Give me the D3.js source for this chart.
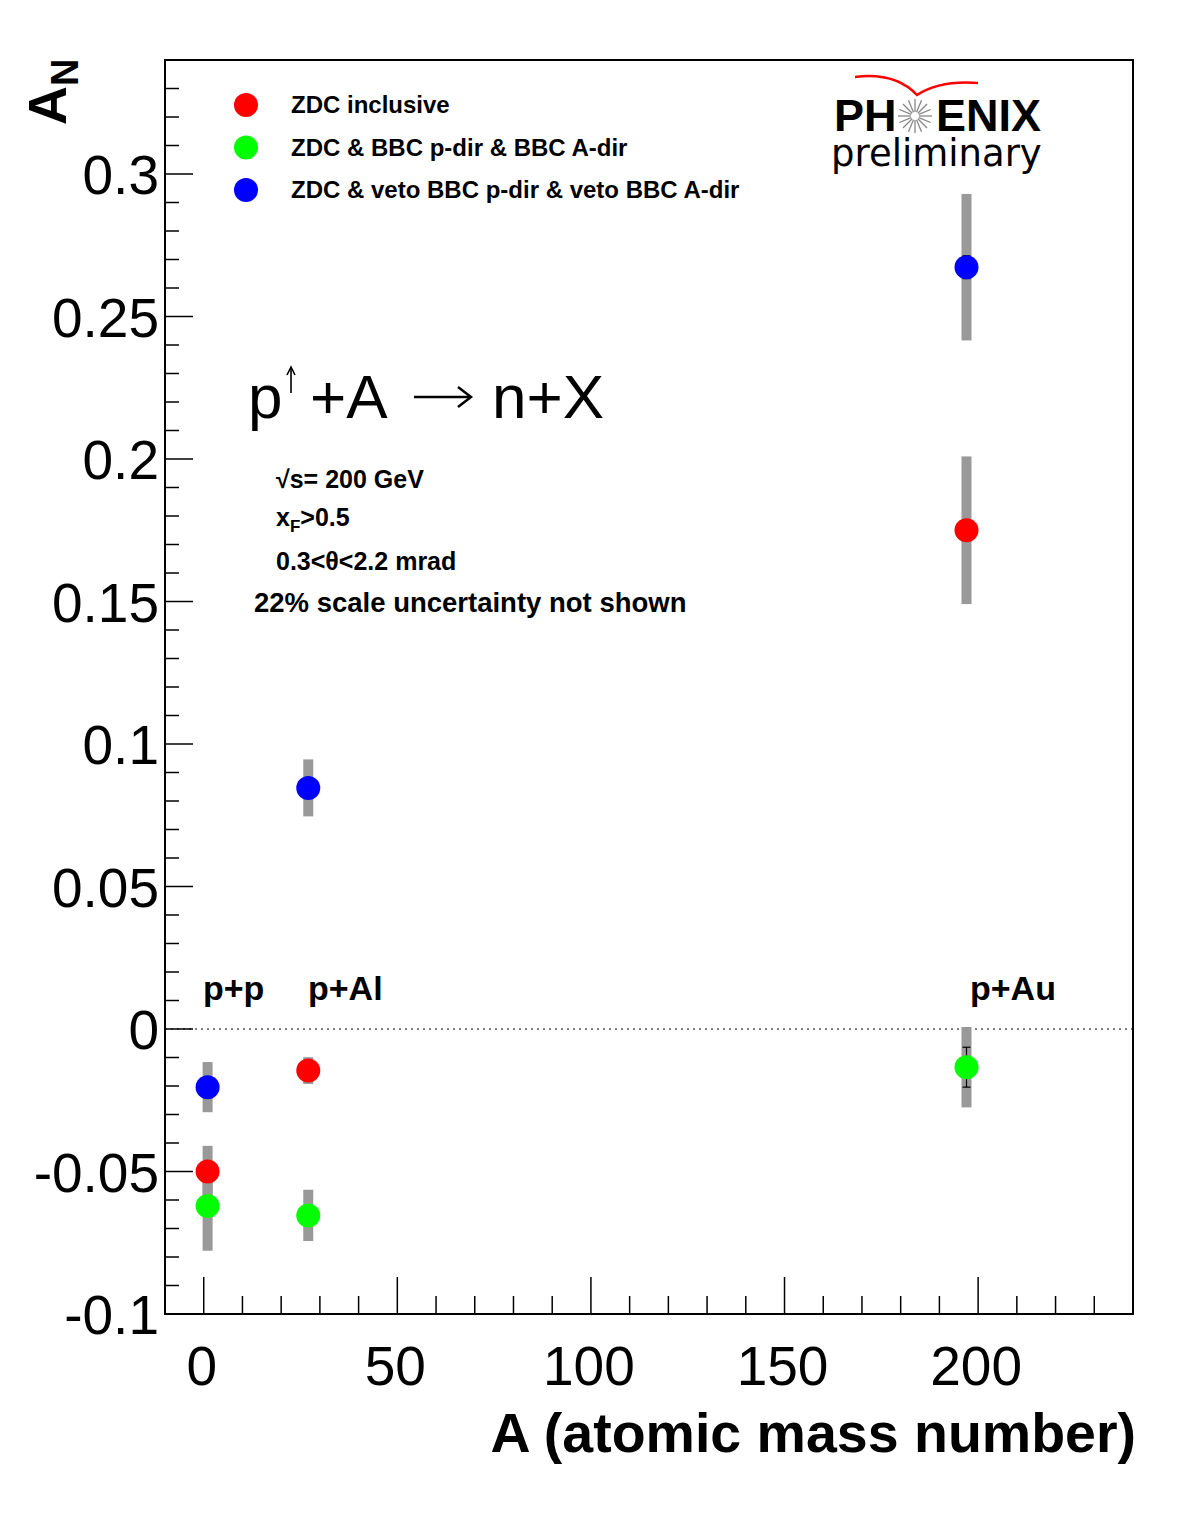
<!DOCTYPE html>
<html lang="en">
<head>
<meta charset="UTF-8">
<script src="https://d3js.org/d3.v7.min.js"></script>
<title>A_N vs A</title>
<style>
  body { margin: 0; background: #fff; }
  text { font-family: "Liberation Sans", Arial, Helvetica, sans-serif; fill: #000; }
  .bold { font-weight: bold; }
</style>
</head>
<body>
<div id="chart"></div>
<script>
// ---- data ----
var massNumbers = [1, 27, 197];
var systems = ["p+p", "p+Al", "p+Au"];
var seriesNames = ["ZDC inclusive", "ZDC & BBC p-dir & BBC A-dir", "ZDC & veto BBC p-dir & veto BBC A-dir"];
var seriesColors = ["#ff0000", "#00ff00", "#0000ff"];

var inclusiveAN  = [-0.0500, -0.0146, 0.1750];
var inclusiveSys = [0.0090, 0.0047, 0.0259];
var inclusiveStat = [0.0030, 0.0020, 0.0035];

var bbcAN   = [-0.0621, -0.0654, -0.0134];
var bbcSys  = [0.0157, 0.0090, 0.0141];
var bbcStat = [0.0035, 0.0030, 0.0070];

var vetoAN   = [-0.0204, 0.0846, 0.2673];
var vetoSys  = [0.0088, 0.0100, 0.0257];
var vetoStat = [0.0030, 0.0030, 0.0040];

var xTicks = [0, 50, 100, 150, 200];
var yTicks = [-0.1, -0.05, 0, 0.05, 0.1, 0.15, 0.2, 0.25, 0.3];

(function() {
    // ---- layout ----
    var width = 1182, height = 1530;
    var left = 165, right = 1133, mTop = 60, bottom = 1314;

    var x = d3.scaleLinear().domain([-10, 240]).range([left, right]);
    var y = d3.scaleLinear().domain([-0.1, 0.34]).range([bottom, mTop]);

    var svg = d3.select('#chart').append('svg')
        .attr('width', width)
        .attr('height', height);

    // build one table for the points
    var series = [
        {vals: inclusiveAN, sys: inclusiveSys, stat: inclusiveStat},
        {vals: bbcAN, sys: bbcSys, stat: bbcStat},
        {vals: vetoAN, sys: vetoSys, stat: vetoStat}
    ];
    var points = [];
    series.forEach(function(s, si) {
        s.vals.forEach(function(v, i) {
            points.push({A: massNumbers[i], v: v, sys: s.sys[i], stat: s.stat[i], color: seriesColors[si]});
        });
    });

    // zero line
    svg.append('line')
        .attr('x1', left).attr('x2', right)
        .attr('y1', y(0)).attr('y2', y(0))
        .attr('stroke', '#000').attr('stroke-width', 1.2)
        .attr('stroke-dasharray', '2,4');

    // ticks
    var xMinor = d3.range(0, 240, 10);
    svg.selectAll('.xtick').data(xMinor).enter().append('line')
        .attr('x1', function(d) { return x(d); }).attr('x2', function(d) { return x(d); })
        .attr('y1', bottom)
        .attr('y2', function(d) { return d % 50 === 0 ? bottom - 37 : bottom - 18; })
        .attr('stroke', '#000').attr('stroke-width', 1.5);

    var yMinor = d3.range(-9, 34).map(function(d) { return d / 100; });
    svg.selectAll('.ytick').data(yMinor).enter().append('line')
        .attr('y1', function(d) { return y(d); }).attr('y2', function(d) { return y(d); })
        .attr('x1', left)
        .attr('x2', function(d) { return Math.round(d * 100) % 5 === 0 ? left + 28 : left + 14; })
        .attr('stroke', '#000').attr('stroke-width', 1.5);

    // frame
    svg.append('rect')
        .attr('x', left).attr('y', mTop)
        .attr('width', right - left).attr('height', bottom - mTop)
        .attr('fill', 'none').attr('stroke', '#000').attr('stroke-width', 2);

    // tick labels
    svg.selectAll('.xlab').data(xTicks).enter().append('text')
        .attr('x', function(d) { return x(d) - 2; })
        .attr('y', 1385)
        .attr('text-anchor', 'middle')
        .style('font-size', '55px')
        .text(function(d) { return d; });

    svg.selectAll('.ylab').data(yTicks).enter().append('text')
        .attr('x', 159)
        .attr('y', function(d) { return y(d) + 20; })
        .attr('text-anchor', 'end')
        .style('font-size', '55px')
        .text(function(d) { return d; });

    // axis titles
    svg.append('text').attr('class', 'bold')
        .attr('x', 1136).attr('y', 1452)
        .attr('text-anchor', 'end')
        .style('font-size', '55.5px')
        .text('A (atomic mass number)');

    var ytitle = svg.append('text').attr('class', 'bold')
        .attr('transform', 'translate(66,125) rotate(-90)')
        .style('font-size', '54px');
    ytitle.append('tspan').text('A');
    ytitle.append('tspan').attr('dy', 12).style('font-size', '38px').text('N');

    // error bars (systematic, grey)
    svg.selectAll('.sys').data(points).enter().append('rect')
        .attr('x', function(d) { return x(d.A) - 5; })
        .attr('width', 10)
        .attr('y', function(d) { return y(d.v + d.sys); })
        .attr('height', function(d) { return y(d.v - d.sys) - y(d.v + d.sys); })
        .attr('fill', '#999999');

    // statistical error bars (black, with caps)
    var stat = svg.selectAll('.stat').data(points).enter().append('g');
    stat.append('line')
        .attr('x1', function(d) { return x(d.A); }).attr('x2', function(d) { return x(d.A); })
        .attr('y1', function(d) { return y(d.v + d.stat); })
        .attr('y2', function(d) { return y(d.v - d.stat); })
        .attr('stroke', '#000').attr('stroke-width', 1.2);
    [1, -1].forEach(function(sgn) {
        stat.append('line')
            .attr('x1', function(d) { return x(d.A) - 4; }).attr('x2', function(d) { return x(d.A) + 4; })
            .attr('y1', function(d) { return y(d.v + sgn * d.stat); })
            .attr('y2', function(d) { return y(d.v + sgn * d.stat); })
            .attr('stroke', '#000').attr('stroke-width', 1.2);
    });

    // markers
    svg.selectAll('.pt').data(points).enter().append('circle')
        .attr('cx', function(d) { return x(d.A); })
        .attr('cy', function(d) { return y(d.v); })
        .attr('r', 12)
        .attr('fill', function(d) { return d.color; });

    // system labels
    var sysLabelX = [203, 308, 970];
    svg.selectAll('.syslab').data(systems).enter().append('text')
        .attr('class', 'bold')
        .attr('x', function(d, i) { return sysLabelX[i]; })
        .attr('y', 1000)
        .style('font-size', '34px')
        .text(function(d) { return d; });

    // legend
    var legend = svg.selectAll('.legend').data(seriesNames).enter().append('g')
        .attr('transform', function(d, i) { return 'translate(246,' + (105 + i * 42.5) + ')'; });
    legend.append('circle').attr('r', 12).attr('fill', function(d, i) { return seriesColors[i]; });
    legend.append('text').attr('class', 'bold')
        .attr('x', 45).attr('y', 8)
        .style('font-size', '24px')
        .text(function(d) { return d; });

    // reaction p(up)+A -> n+X
    svg.append('text').attr('x', 248).attr('y', 418).style('font-size', '62px').text('p');
    svg.append('line').attr('x1', 291).attr('x2', 291).attr('y1', 369).attr('y2', 393)
        .attr('stroke', '#000').attr('stroke-width', 1.6);
    svg.append('path').attr('d', 'M287,375 L291,367 L295,375')
        .attr('fill', 'none').attr('stroke', '#000').attr('stroke-width', 1.6);
    svg.append('text').attr('x', 310).attr('y', 418).style('font-size', '62px').text('+A');
    svg.append('line').attr('x1', 414).attr('x2', 470).attr('y1', 397).attr('y2', 397)
        .attr('stroke', '#000').attr('stroke-width', 2.5);
    svg.append('path').attr('d', 'M458,387 L471,397 L458,407')
        .attr('fill', 'none').attr('stroke', '#000').attr('stroke-width', 2.5);
    svg.append('text').attr('x', 492).attr('y', 418).style('font-size', '62px').text('n+X');

    // conditions
    svg.append('text').attr('class', 'bold').attr('x', 276).attr('y', 488)
        .style('font-size', '25px').text('√s= 200 GeV');
    var xf = svg.append('text').attr('class', 'bold').attr('x', 276).attr('y', 526).style('font-size', '25px');
    xf.append('tspan').text('x');
    xf.append('tspan').attr('dy', 6).style('font-size', '17px').text('F');
    xf.append('tspan').attr('dy', -6).text('>0.5');
    svg.append('text').attr('class', 'bold').attr('x', 276).attr('y', 570)
        .style('font-size', '25px').text('0.3<θ<2.2 mrad');
    svg.append('text').attr('class', 'bold').attr('x', 254).attr('y', 612)
        .style('font-size', '27.5px').text('22% scale uncertainty not shown');

    // PHENIX preliminary logo
    var logo = svg.append('g');
    logo.append('path')
        .attr('d', 'M855,77 Q895,72 917,95 Q940,80 978,83')
        .attr('fill', 'none').attr('stroke', '#ff0000').attr('stroke-width', 2.5);
    logo.append('text').attr('class', 'bold').attr('x', 834).attr('y', 131)
        .style('font-size', '45px').text('PH');
    logo.append('text').attr('class', 'bold').attr('x', 936).attr('y', 131)
        .style('font-size', '45px').text('ENIX');
    d3.range(16).forEach(function(k) {
        var a = k * Math.PI / 8;
        logo.append('line')
            .attr('x1', 915 + 4 * Math.cos(a)).attr('y1', 116 + 4 * Math.sin(a))
            .attr('x2', 915 + 17 * Math.cos(a)).attr('y2', 116 + 17 * Math.sin(a))
            .attr('stroke', '#888').attr('stroke-width', 1.3);
    });
    logo.append('text').attr('x', 831).attr('y', 166)
        .style('font-size', '37px').style('font-family', '"DejaVu Sans", sans-serif')
        .text('preliminary');
})();
</script>
</body>
</html>
